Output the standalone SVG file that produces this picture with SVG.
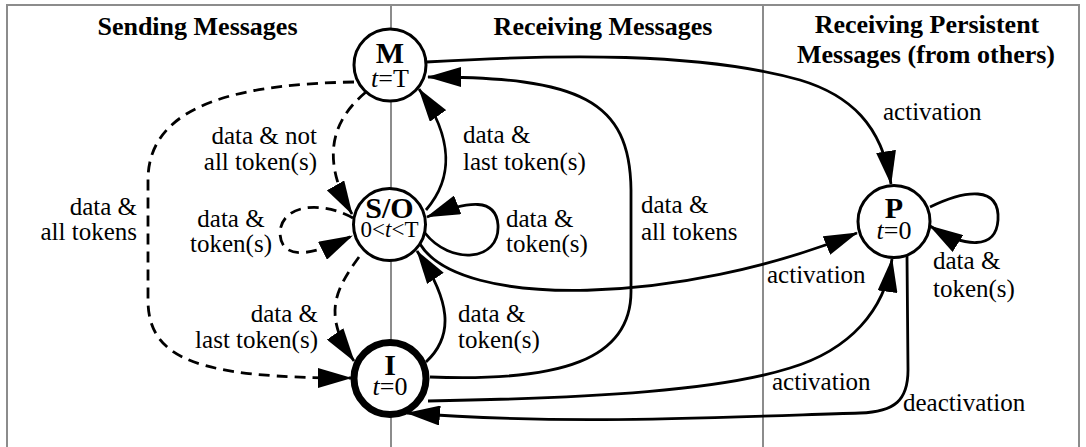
<svg xmlns="http://www.w3.org/2000/svg" width="1086" height="447" viewBox="0 0 1086 447">
<defs>
<marker id="ah" markerWidth="34" markerHeight="20" refX="33" refY="10" orient="auto" markerUnits="userSpaceOnUse"><path d="M0,0 L34,10 L0,20 z" fill="#000"/></marker>
</defs>
<style>
.frame{stroke:#8c8c8c;stroke-width:2;fill:none}
.title{font-family:"Liberation Serif","Times New Roman",serif;font-size:26px;font-weight:bold;text-anchor:middle;fill:#000}
.lbl{font-family:"Liberation Serif","Times New Roman",serif;font-size:25px;fill:#000}
.r{text-anchor:end}
.c{text-anchor:middle}
.e{fill:none;stroke:#000;stroke-width:2.8;marker-end:url(#ah)}
.d{stroke-dasharray:11 7}
.node{fill:#fff;stroke:#000;stroke-width:3}
.thick{stroke-width:7}
.nm{font-family:"Liberation Serif","Times New Roman",serif;font-weight:bold;font-size:30px;text-anchor:middle;fill:#000}
.sub{font-family:"Liberation Serif","Times New Roman",serif;font-size:26px;text-anchor:middle;fill:#000}
.sm{font-size:23px}
</style>
<g id="frame">
<path class="frame" d="M7,447 V5 H1079 V447 M391,5 V447 M763,5 V447"/>
<text class="title" x="197.5" y="35">Sending Messages</text>
<text class="title" x="603" y="35">Receiving Messages</text>
<text class="title" x="927" y="33">Receiving Persistent</text>
<text class="title" x="926" y="63">Messages (from others)</text>
</g>
<g id="node-M">
<circle class="node" cx="390" cy="65" r="36"/>
<text class="nm" x="390" y="63">M</text>
<text class="sub" x="390" y="87"><tspan font-style="italic">t</tspan>=T</text>
</g>
<g id="node-SO">
<circle class="node" cx="389.5" cy="224.5" r="36"/>
<text class="nm" x="389.5" y="218">S/O</text>
<text class="sub sm" x="389.5" y="237">0&lt;<tspan font-style="italic">t</tspan>&lt;T</text>
</g>
<g id="node-I">
<circle class="node thick" cx="390" cy="378.5" r="36"/>
<text class="nm" x="390" y="375">I</text>
<text class="sub" x="390" y="395"><tspan font-style="italic">t</tspan>=0</text>
</g>
<g id="node-P">
<circle class="node" cx="894" cy="221.5" r="36"/>
<text class="nm" x="894" y="218">P</text>
<text class="sub" x="894" y="239"><tspan font-style="italic">t</tspan>=0</text>
</g>
<g id="connectors">
<path class="e" d="M 426 62 C 560 54, 700 52, 800 80 C 850 95, 882 125, 891 184"/>
<path class="e" d="M 430 377 C 560 382, 632 360, 631 290 L 631 190 C 630 100, 580 77, 428 77"/>
<path class="e" d="M 426 210 C 452 180, 455 140, 419 89"/>
<path class="e" d="M 425 233 C 450 265, 500 262, 498 225 C 496 198, 470 200, 427 217"/>
<path class="e" d="M 426 362 C 455 335, 450 300, 417 251"/>
<path class="e" d="M 420 244 C 460 310, 680 305, 857 233"/>
<path class="e" d="M 428 401 C 600 398, 720 390, 790 368 C 850 350, 885 310, 892 259"/>
<path class="e" d="M 907 256 L 908 370 C 908 400, 895 412, 860 413 C 700 418, 560 425, 407 413"/>
<path class="e d" d="M 366 92 C 335 118, 318 155, 352 214"/>
<path class="e d" d="M 354 82 C 250 84, 148 100, 148 180 L 148 300 C 148 360, 200 378, 351 378"/>
<path class="e d" d="M 353 218 C 320 200, 282 205, 280 232 C 280 255, 300 262, 352 236"/>
<path class="e d" d="M 359 257 C 335 290, 322 315, 354 361"/>
<path class="e" d="M 930 207 C 965 190, 1000 185, 998 220 C 996 250, 965 248, 930 226"/>
<text class="lbl r" x="317" y="144">data &amp; not</text>
<text class="lbl r" x="317" y="170">all token(s)</text>
<text class="lbl r" x="137" y="215">data &amp;</text>
<text class="lbl r" x="137" y="240">all tokens</text>
<text class="lbl c" x="231" y="227">data &amp;</text>
<text class="lbl c" x="231" y="252">token(s)</text>
<text class="lbl r" x="318" y="322">data &amp;</text>
<text class="lbl r" x="318" y="348">last token(s)</text>
<text class="lbl" x="463" y="143">data &amp;</text>
<text class="lbl" x="463" y="170">last token(s)</text>
<text class="lbl" x="506" y="227">data &amp;</text>
<text class="lbl" x="506" y="252">token(s)</text>
<text class="lbl" x="641" y="213">data &amp;</text>
<text class="lbl" x="641" y="240">all tokens</text>
<text class="lbl" x="458" y="322">data &amp;</text>
<text class="lbl" x="458" y="348">token(s)</text>
<text class="lbl" x="883" y="120">activation</text>
<text class="lbl" x="767" y="283">activation</text>
<text class="lbl" x="933" y="269">data &amp;</text>
<text class="lbl" x="933" y="297">token(s)</text>
<text class="lbl" x="772" y="390">activation</text>
<text class="lbl" x="903" y="411">deactivation</text>
</g>
</svg>
